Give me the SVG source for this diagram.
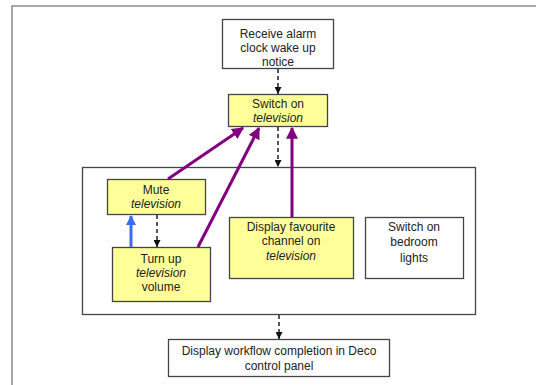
<svg xmlns="http://www.w3.org/2000/svg" width="536" height="385" viewBox="0 0 536 385">
  <defs>
    <style>
      .frame { fill: none; stroke: #8a8a8a; stroke-width: 1.5; }
      .box { stroke: #444; stroke-width: 1.3; }
      .plain { fill: #ffffff; }
      .task { fill: #ffff99; }
      .lbl { font-family: "Liberation Sans", Arial, sans-serif; font-size: 12px; fill: #222; text-anchor: middle; }
      .it { font-style: italic; }
      .flow { stroke: #111; stroke-width: 1.4; stroke-dasharray: 4 3; fill: none; }
      .ctl { stroke: #800080; stroke-width: 3; fill: none; }
      .back { stroke: #3a6cf4; stroke-width: 3; fill: none; }
    </style>
    <marker id="ah-black" viewBox="0 0 10 10" refX="10" refY="5" markerWidth="7" markerHeight="7" markerUnits="userSpaceOnUse" orient="auto">
      <path d="M0,0 L10,5 L0,10 z" fill="#111"/>
    </marker>
    <marker id="ah-purple" viewBox="0 0 10 10" refX="9" refY="5" markerWidth="4" markerHeight="4" orient="auto">
      <path d="M0,0 L10,5 L0,10 z" fill="#800080"/>
    </marker>
    <marker id="ah-blue" viewBox="0 0 10 10" refX="9" refY="5" markerWidth="3.5" markerHeight="3.5" orient="auto">
      <path d="M0,0 L10,5 L0,10 z" fill="#3a6cf4"/>
    </marker>
  </defs>

  <rect width="536" height="385" fill="#ffffff"/>
  <!-- outer page frame -->
  <path class="frame" d="M12,385 V6 H536"/>

  <!-- container for the parallel tasks -->
  <rect id="parallel-block" x="82.5" y="167.5" width="393" height="147" fill="#ffffff" stroke="#444" stroke-width="1.3"/>

  <g id="receive-alarm">
    <rect class="box plain" x="222.5" y="19.5" width="111" height="49"/>
    <text class="lbl" x="278" y="38">Receive alarm</text>
    <text class="lbl" x="278" y="52">clock wake up</text>
    <text class="lbl" x="278" y="66">notice</text>
  </g>

  <g id="switch-on-tv">
    <rect class="box task" x="228.5" y="94.5" width="99" height="32"/>
    <text class="lbl" x="278" y="108">Switch on</text>
    <text class="lbl it" x="278" y="122">television</text>
  </g>

  <g id="mute-tv">
    <rect class="box task" x="107.5" y="179.5" width="98" height="35"/>
    <text class="lbl" x="156" y="194">Mute</text>
    <text class="lbl it" x="156" y="208">television</text>
  </g>

  <g id="volume-up">
    <rect class="box task" x="112.5" y="247.5" width="98" height="54"/>
    <text class="lbl" x="161" y="263">Turn up</text>
    <text class="lbl it" x="161" y="277">television</text>
    <text class="lbl" x="161" y="291">volume</text>
  </g>

  <g id="favourite-channel">
    <rect class="box task" x="229.5" y="217.5" width="124" height="61"/>
    <text class="lbl" x="291" y="231">Display favourite</text>
    <text class="lbl" x="291" y="245">channel on</text>
    <text class="lbl it" x="291" y="260">television</text>
  </g>

  <g id="bedroom-lights">
    <rect class="box plain" x="365.5" y="217.5" width="98" height="61"/>
    <text class="lbl" x="414" y="231">Switch on</text>
    <text class="lbl" x="414" y="246">bedroom</text>
    <text class="lbl" x="414" y="262">lights</text>
  </g>

  <g id="completion">
    <rect class="box plain" x="168.5" y="339.5" width="221" height="37"/>
    <text class="lbl" x="279" y="355">Display workflow completion in Deco</text>
    <text class="lbl" x="279" y="370">control panel</text>
  </g>

  <g id="connectors">
    <line class="flow" x1="278" y1="69" x2="278" y2="94" marker-end="url(#ah-black)"/>
    <line class="flow" x1="278" y1="127" x2="278" y2="167" marker-end="url(#ah-black)"/>
    <line class="flow" x1="157" y1="215" x2="157" y2="247" marker-end="url(#ah-black)"/>
    <line class="flow" x1="279" y1="315" x2="279" y2="339" marker-end="url(#ah-black)"/>
    <line class="ctl" x1="168" y1="179" x2="243" y2="128" marker-end="url(#ah-purple)"/>
    <line class="ctl" x1="198" y1="247" x2="259" y2="128" marker-end="url(#ah-purple)"/>
    <line class="ctl" x1="292" y1="217" x2="292" y2="128" marker-end="url(#ah-purple)"/>
    <line class="back" x1="131" y1="247" x2="131" y2="216" marker-end="url(#ah-blue)"/>
  </g>
</svg>
